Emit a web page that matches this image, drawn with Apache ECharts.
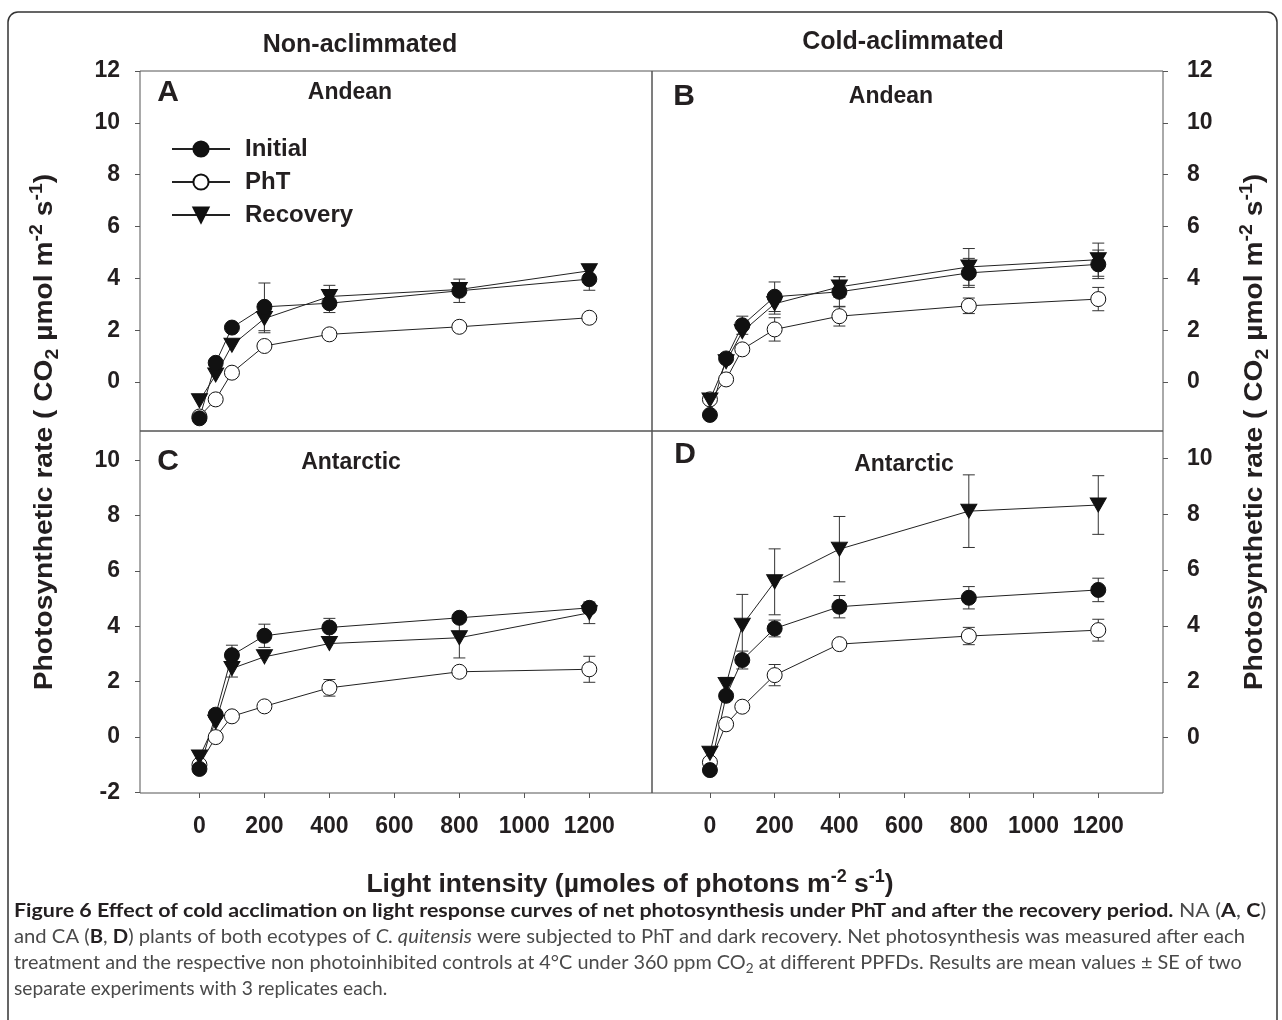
<!DOCTYPE html>
<html>
<head>
<meta charset="utf-8">
<script src="https://cdn.jsdelivr.net/npm/echarts@6/dist/echarts.min.js"></script>
<style>
html, body { margin: 0; padding: 0; background: #fff; }
#chart { width: 1282px; height: 1020px; }
</style>
</head>
<body>
<div id="chart"></div>
<script>
// light levels (µmol photons m-2 s-1)
const lightLevels = [0, 50, 100, 200, 400, 800, 1200]
const xTicks = [0, 200, 400, 600, 800, 1000, 1200]
const yTicksTop = [0, 2, 4, 6, 8, 10, 12]
const yTicksBottom = [-2, 0, 2, 4, 6, 8, 10]

// A: Andean, non-aclimmated
const aInitial = [-1.4, 0.74, 2.1, 2.9, 3.04, 3.52, 3.97]
const aInitialErr = [0, 0, 0, 0.92, 0.36, 0.45, 0.43]
const aPhT = [-1.33, -0.67, 0.36, 1.39, 1.84, 2.13, 2.48]
const aPhTErr = [0, 0, 0, 0, 0, 0, 0]
const aRecovery = [-0.72, 0.27, 1.42, 2.45, 3.3, 3.57, 4.29]
const aRecoveryErr = [0, 0, 0, 0.55, 0.43, 0, 0]

// B: Andean, cold-aclimmated
const bInitial = [-1.27, 0.91, 2.19, 3.29, 3.48, 4.21, 4.54]
const bInitialErr = [0, 0, 0.35, 0.57, 0.58, 0.56, 0.55]
const bPhT = [-0.67, 0.1, 1.26, 2.03, 2.54, 2.94, 3.2]
const bPhTErr = [0, 0, 0.1, 0.45, 0.38, 0.3, 0.45]
const bRecovery = [-0.69, 0.78, 1.94, 3.02, 3.67, 4.44, 4.72]
const bRecoveryErr = [0, 0, 0, 0.4, 0.4, 0.71, 0.64]

// C: Antarctic, non-aclimmated
const cInitial = [-1.15, 0.81, 2.96, 3.66, 3.96, 4.31, 4.67]
const cInitialErr = [0, 0, 0.36, 0.42, 0.33, 0, 0]
const cPhT = [-1.0, 0.0, 0.75, 1.11, 1.78, 2.36, 2.45]
const cPhTErr = [0, 0, 0, 0, 0.3, 0, 0.47]
const cRecovery = [-0.72, 0.54, 2.48, 2.9, 3.38, 3.59, 4.49]
const cRecoveryErr = [0, 0, 0.31, 0, 0, 0.73, 0.39]

// D: Antarctic, cold-aclimmated
const dInitial = [-1.16, 1.5, 2.78, 3.91, 4.69, 5.01, 5.29]
const dInitialErr = [0, 0, 0.32, 0.3, 0.4, 0.4, 0.42]
const dPhT = [-0.88, 0.48, 1.11, 2.24, 3.35, 3.64, 3.85]
const dPhTErr = [0, 0, 0, 0.38, 0, 0.31, 0.39]
const dRecovery = [-0.56, 1.91, 4.03, 5.58, 6.75, 8.11, 8.33]
const dRecoveryErr = [0, 0.25, 1.1, 1.18, 1.17, 1.3, 1.05]

const panels = [
  { initial: aInitial, initialErr: aInitialErr, pht: aPhT, phtErr: aPhTErr, rec: aRecovery, recErr: aRecoveryErr },
  { initial: bInitial, initialErr: bInitialErr, pht: bPhT, phtErr: bPhTErr, rec: bRecovery, recErr: bRecoveryErr },
  { initial: cInitial, initialErr: cInitialErr, pht: cPhT, phtErr: cPhTErr, rec: cRecovery, recErr: cRecoveryErr },
  { initial: dInitial, initialErr: dInitialErr, pht: dPhT, phtErr: dPhTErr, rec: dRecovery, recErr: dRecoveryErr }
]

const FONT = 'Liberation Sans, Arial, sans-serif'
const INK = '#231f20'
const FRAME = '#555'

const grids = [
  { left: 140, top: 71, width: 512, height: 360 },
  { left: 652, top: 71, width: 511, height: 360 },
  { left: 140, top: 431, width: 512, height: 362 },
  { left: 652, top: 431, width: 511, height: 362 }
].map(g => Object.assign(g, {
  show: true, borderColor: FRAME, borderWidth: 1, containLabel: false, outerBoundsMode: 'none'
}))

const xRanges = [[-183, 1393], [-179, 1400], [-183, 1393], [-179, 1400]]
const yRanges = [[-1.89, 12], [-1.89, 12], [-2.02, 11.06], [-1.98, 10.98]]

const tickLabel = { fontFamily: FONT, fontWeight: 'bold', fontSize: 23, color: INK, formatter: v => String(v) }

const xAxis = grids.map((g, i) => ({
  gridIndex: i,
  type: 'value',
  position: 'bottom',
  min: xRanges[i][0],
  max: xRanges[i][1],
  axisLine: { show: false, onZero: false },
  splitLine: { show: false },
  axisTick: { show: i >= 2, customValues: xTicks, length: 5, lineStyle: { color: FRAME } },
  axisLabel: Object.assign({ show: i >= 2, customValues: xTicks, margin: 22 }, tickLabel)
}))

const yAxis = grids.map((g, i) => ({
  gridIndex: i,
  type: 'value',
  position: i % 2 === 0 ? 'left' : 'right',
  min: yRanges[i][0],
  max: yRanges[i][1],
  axisLine: { show: false, onZero: false },
  splitLine: { show: false },
  axisTick: { show: true, customValues: i < 2 ? yTicksTop : yTicksBottom, length: 5, lineStyle: { color: FRAME } },
  axisLabel: Object.assign({ customValues: i < 2 ? yTicksTop : yTicksBottom, margin: i % 2 === 0 ? 20 : 24 }, tickLabel)
}))

function curve (name, p, values, symbol, fill) {
  return {
    name: name,
    type: 'line',
    xAxisIndex: p,
    yAxisIndex: p,
    data: lightLevels.map((x, i) => [x, values[i]]),
    symbol: symbol,
    symbolSize: symbol === 'circle' ? 15 : [16, 14],
    symbolRotate: symbol === 'triangle' ? 180 : 0,
    showSymbol: true,
    animation: false,
    lineStyle: { color: '#222', width: 1 },
    itemStyle: { color: fill, borderColor: '#111', borderWidth: 1 },
    z: 3
  }
}

function errorBars (p, values, errs) {
  return {
    name: 'err' + p,
    type: 'custom',
    xAxisIndex: p,
    yAxisIndex: p,
    silent: true,
    animation: false,
    data: lightLevels.map((x, i) => [x, values[i], errs[i]]).filter(d => d[2] > 0),
    renderItem: function (params, api) {
      const x = api.value(0)
      const y = api.value(1)
      const e = api.value(2)
      const top = api.coord([x, y + e])
      const bot = api.coord([x, y - e])
      const hw = 6
      const st = { stroke: '#333', lineWidth: 1 }
      return {
        type: 'group',
        children: [
          { type: 'line', shape: { x1: top[0], y1: top[1], x2: bot[0], y2: bot[1] }, style: st },
          { type: 'line', shape: { x1: top[0] - hw, y1: top[1], x2: top[0] + hw, y2: top[1] }, style: st },
          { type: 'line', shape: { x1: bot[0] - hw, y1: bot[1], x2: bot[0] + hw, y2: bot[1] }, style: st }
        ]
      }
    },
    z: 2
  }
}

const series = []
panels.forEach((d, p) => {
  series.push(errorBars(p, d.pht, d.phtErr))
  series.push(errorBars(p, d.initial, d.initialErr))
  series.push(errorBars(p, d.rec, d.recErr))
  series.push(curve('PhT', p, d.pht, 'circle', '#fff'))
  series.push(curve('Recovery', p, d.rec, 'triangle', '#111'))
  series.push(curve('Initial', p, d.initial, 'circle', '#111'))
})

function txt (x, y, text, size, extra) {
  return {
    type: 'text',
    x: x,
    y: y,
    silent: true,
    style: Object.assign({
      text: text,
      fontFamily: FONT,
      fontWeight: 'bold',
      fontSize: size,
      fill: INK,
      align: 'center',
      verticalAlign: 'middle'
    }, extra || {})
  }
}

const yTitle = 'Photosynthetic rate ( CO{sub|2} µmol m{sup|-2} s{sup|-1})'
const yTitleRich = {
  sub: { fontFamily: FONT, fontWeight: 'bold', fontSize: 18, verticalAlign: 'bottom', lineHeight: 34, fill: INK },
  sup: { fontFamily: FONT, fontWeight: 'bold', fontSize: 18, verticalAlign: 'top', lineHeight: 34, fill: INK }
}

const CAP = 'Lato, Noto Sans, sans-serif'
const capRich = {
  b: { fontFamily: CAP, fontWeight: 'bold', fontSize: 19, fill: '#231f20' },
  r: { fontFamily: CAP, fontSize: 19, fill: '#4a4a4a' },
  i: { fontFamily: CAP, fontStyle: 'italic', fontSize: 19, fill: '#4a4a4a' },
  s: { fontFamily: CAP, fontSize: 13, fill: '#4a4a4a', verticalAlign: 'bottom', lineHeight: 25 }
}
const captionLines = [
  '{b|Figure 6 Effect of cold acclimation on light response curves of net photosynthesis under PhT and after the recovery period.}{r| NA (}{b|A}{r|, }{b|C}{r|)}',
  '{r|and CA (}{b|B}{r|, }{b|D}{r|) plants of both ecotypes of }{i|C. quitensis}{r| were subjected to PhT and dark recovery. Net photosynthesis was measured after each}',
  '{r|treatment and the respective non photoinhibited controls at 4°C under 360 ppm CO}{s|2}{r| at different PPFDs. Results are mean values ± SE of two}',
  '{r|separate experiments with 3 replicates each.}'
]
const captionStretch = [1.128, 1.065, 1.045, 1.01]

const graphic = [
  {
    type: 'rect',
    silent: true,
    shape: { x: 8, y: 12, width: 1269, height: 1040, r: 10 },
    style: { fill: 'none', stroke: '#333', lineWidth: 1.5 }
  },
  txt(360, 45, 'Non-aclimmated', 25),
  txt(903, 42, 'Cold-aclimmated', 25),
  txt(168, 93, 'A', 30),
  txt(350, 93, 'Andean', 23),
  txt(684, 97, 'B', 30),
  txt(891, 97, 'Andean', 23),
  txt(168, 462, 'C', 30),
  txt(351, 463, 'Antarctic', 23),
  txt(685, 455, 'D', 30),
  txt(904, 465, 'Antarctic', 23),
  txt(630, 885, 'Light intensity (µmoles of photons m{sup|-2} s{sup|-1})', 26.5, {
    rich: {
      sup: { fontFamily: FONT, fontWeight: 'bold', fontSize: 18, verticalAlign: 'top', lineHeight: 34, fill: INK }
    }
  }),
  Object.assign(txt(45, 432, yTitle, 26, { rich: yTitleRich }), { rotation: Math.PI / 2, scaleX: 1.085 }),
  Object.assign(txt(1255, 432, yTitle, 26, { rich: yTitleRich }), { rotation: Math.PI / 2, scaleX: 1.085 })
]
captionLines.forEach((line, i) => {
  graphic.push({
    type: 'text',
    x: 14,
    y: 911 + i * 26,
    scaleX: captionStretch[i],
    silent: true,
    style: { text: line, rich: capRich, align: 'left', verticalAlign: 'middle' }
  })
})

const chart = echarts.init(document.getElementById('chart'))
chart.setOption({
  animation: false,
  backgroundColor: '#fff',
  grid: grids,
  xAxis: xAxis,
  yAxis: yAxis,
  legend: {
    data: ['Initial', 'PhT', 'Recovery'],
    orient: 'vertical',
    left: 171,
    top: 137,
    padding: 0,
    itemWidth: 58,
    itemHeight: 19,
    itemGap: 9,
    selectedMode: false,
    textStyle: { fontFamily: FONT, fontWeight: 'bold', fontSize: 24, color: INK, lineHeight: 24, padding: [0, 0, 0, 10] }
  },
  series: series,
  graphic: graphic
})
</script>
</body>
</html>
